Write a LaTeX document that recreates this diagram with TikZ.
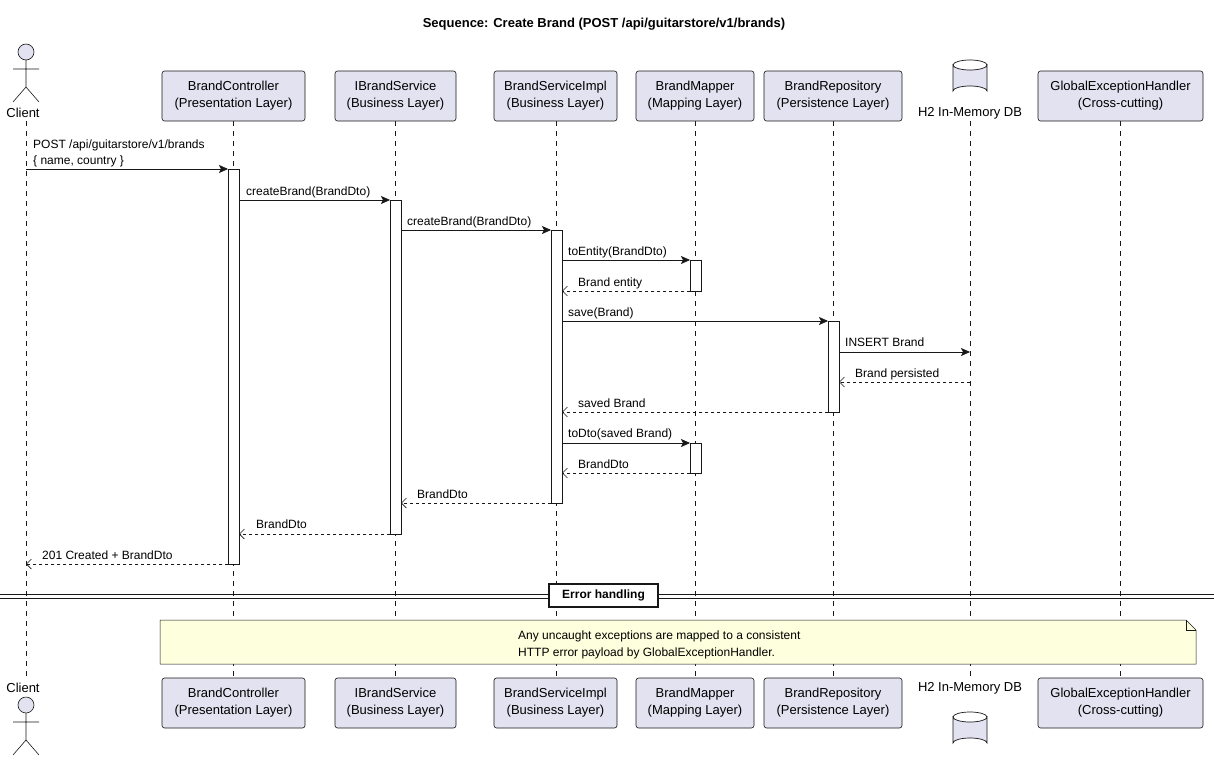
\documentclass[tikz,border=0pt]{standalone}
\usepackage{fontspec}
\setmainfont{Liberation Sans}
\usetikzlibrary{arrows.meta,shapes.geometric}
\definecolor{pbox}{HTML}{E2E2F0}
\definecolor{pline}{HTML}{181818}
\definecolor{pnote}{HTML}{FEFFDD}
\begin{document}
\begin{tikzpicture}[x=1pt,y=-1pt,
  part/.style={draw=pline,fill=pbox,rounded corners=2.5pt,line width=0.6pt,align=center,font=\fontsize{13}{17}\selectfont,inner sep=0pt},
  life/.style={draw=pline,dash pattern=on 5pt off 5pt,line width=0.5pt},
  act/.style={draw=pline,fill=white,line width=0.6pt},
  sync/.style={draw=pline,line width=0.6pt,-{Stealth[length=9pt,width=8pt,inset=2pt]}},
  ret/.style={draw=pline,line width=0.6pt,dash pattern=on 3pt off 3pt,-{Straight Barb[length=5pt,width=10pt]}},
  lbl/.style={font=\fontsize{12}{14}\selectfont,anchor=base west,inner sep=0pt},
  ptext/.style={font=\fontsize{13}{15}\selectfont,inner sep=0pt}]
\useasboundingbox (0,0) rectangle (1214,760);
\fill[white] (0,0) rectangle (1214,760);
\node[font=\bfseries\fontsize{13}{15}\selectfont] (title) at (604,24) {Sequence: Create Brand (POST /api/guitarstore/v1/brands)};
% lifelines
\foreach \x/\n in {26/cl,233/bc,395/bs,556/bi,695/bm,833/br,970/db,1120/ge}{
  \coordinate (\n t) at (\x,121); \coordinate (\n b) at (\x,678);
  \draw[life] (\n t) -- (\n b);}
% participant boxes (top and bottom)
\foreach \y/\s in {96/T,703/B}{
  \node[part,minimum width=143pt,minimum height=50pt] (bc\s) at (233.5,\y) {BrandController\\(Presentation Layer)};
  \node[part,minimum width=121pt,minimum height=50pt] (bs\s) at (395.5,\y) {IBrandService\\(Business Layer)};
  \node[part,minimum width=123pt,minimum height=50pt] (bi\s) at (555.5,\y) {BrandServiceImpl\\(Business Layer)};
  \node[part,minimum width=118pt,minimum height=50pt] (bm\s) at (695,\y) {BrandMapper\\(Mapping Layer)};
  \node[part,minimum width=138pt,minimum height=50pt] (br\s) at (833,\y) {BrandRepository\\(Persistence Layer)};
  \node[part,minimum width=165pt,minimum height=50pt] (ge\s) at (1120.5,\y) {GlobalExceptionHandler\\(Cross-cutting)};
}
% actors
\foreach \h/\n in {52/A,705/B}{
  \begin{scope}[shift={(26,\h)},draw=pline,line width=0.6pt]
  \draw[fill=pbox] (0,0) circle (8);
  \draw (0,8) -- (0,35) (-13,17) -- (13,17) (-13,50) -- (0,35) -- (13,50);
  \end{scope}}
\node[ptext] (clT) at (23,113) {Client};
\node[ptext] (clB) at (23,688) {Client};
% databases
\foreach \top/\n in {60/A,712/B}{
  \begin{scope}[shift={(970,\top)},line width=0.7pt]
  \draw[fill=pbox,draw=pline] (-17,5) -- (-17,31) arc[start angle=180,end angle=360,x radius=17,y radius=5] -- (17,5) arc[start angle=0,end angle=180,x radius=17,y radius=5] -- cycle;
  \draw[draw=pline] (-17,5) arc[start angle=180,end angle=360,x radius=17,y radius=5];
  \end{scope}}
\node[ptext] (dbT) at (970,113) {H2 In-Memory DB};
\node[ptext] (dbB) at (970,688) {H2 In-Memory DB};
% activations
\draw[act] (228,169) rectangle (239,564);
\draw[act] (390,200) rectangle (401,534);
\draw[act] (551,230) rectangle (562,503);
\draw[act] (690,260) rectangle (701,291);
\draw[act] (690,443) rectangle (701,473);
\draw[act] (828,321) rectangle (839,412);
% messages
\newcommand\msgx[4]{%
  \coordinate (m#3a) at (#1,#3); \coordinate (m#3b) at (#2,#3);
  \draw[#4] (m#3a) -- (m#3b);}
\msgx{26}{228}{169}{sync}
\node[lbl] (l1) at (33,148) {POST /api/guitarstore/v1/brands};
\node[lbl] (l1b) at (33,164) {\{ name, country \}};
\msgx{239}{390}{200}{sync}\node[lbl] (l2) at (246,195) {createBrand(BrandDto)};
\msgx{401}{551}{230}{sync}\node[lbl] (l3) at (407,225) {createBrand(BrandDto)};
\msgx{562}{690}{260}{sync}\node[lbl] (l4) at (568,255) {toEntity(BrandDto)};
\msgx{690}{562}{291}{ret}\node[lbl] (l5) at (578,286) {Brand entity};
\msgx{562}{828}{321}{sync}\node[lbl] (l6) at (568,316) {save(Brand)};
\msgx{839}{970}{352}{sync}\node[lbl] (l7) at (845,346) {INSERT Brand};
\msgx{970}{839}{382}{ret}\node[lbl] (l8) at (855,377) {Brand persisted};
\msgx{828}{562}{412}{ret}\node[lbl] (l9) at (578,407) {saved Brand};
\msgx{562}{690}{443}{sync}\node[lbl] (l10) at (568,437) {toDto(saved Brand)};
\msgx{690}{562}{473}{ret}\node[lbl] (l11) at (578,468) {BrandDto};
\msgx{551}{401}{503}{ret}\node[lbl] (l12) at (417,498) {BrandDto};
\msgx{390}{239}{534}{ret}\node[lbl] (l13) at (256,528) {BrandDto};
\msgx{228}{26}{564}{ret}\node[lbl] (l14) at (42,559) {201 Created + BrandDto};
% divider
\draw[pline,line width=0.8pt] (0,594) -- (1214,594) (0,598) -- (1214,598);
\node[draw=pline,fill=white,line width=1.2pt,font=\bfseries\fontsize{12}{14}\selectfont,minimum width=109pt,minimum height=23pt,inner sep=0pt] (err) at (603.5,595.5) {Error handling};
% note
\draw[draw=pline,fill=pnote,line width=0.5pt] (160,620) -- (1186,620) -- (1196,630) -- (1196,664) -- (160,664) -- cycle;
\draw[draw=pline,line width=0.5pt] (1186,620) -- (1186,630) -- (1196,630);
\node[lbl] (n1) at (518,639) {Any uncaught exceptions are mapped to a consistent};
\node[lbl] (n2) at (518,656) {HTTP error payload by GlobalExceptionHandler.};
\end{tikzpicture}
\end{document}
